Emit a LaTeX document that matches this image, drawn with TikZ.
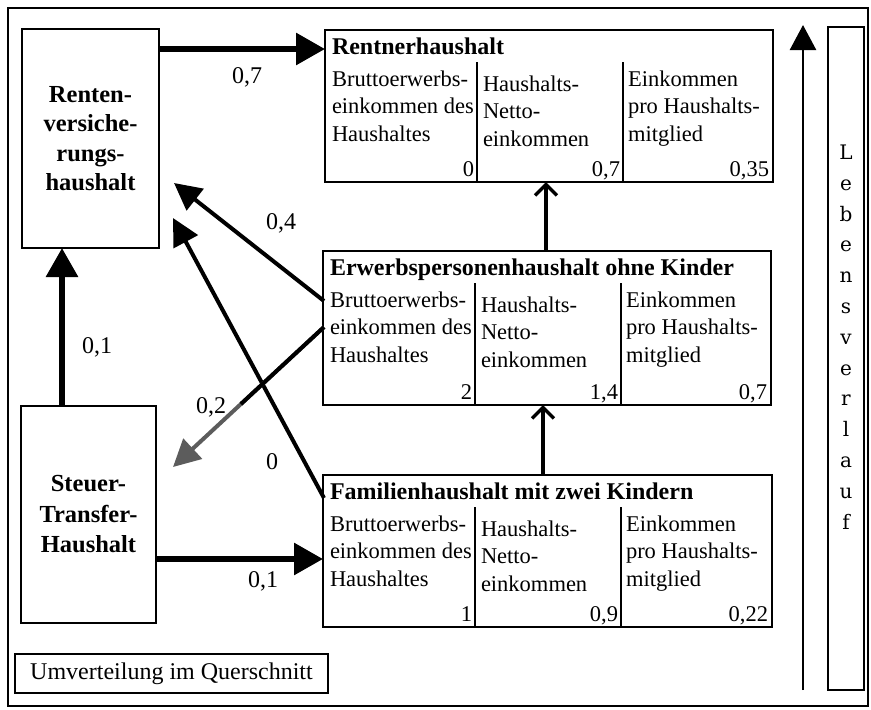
\documentclass[tikz,border=0pt]{standalone}
\usepackage{fontspec}
\setmainfont{Liberation Serif}
\newfontfamily\lebfont{DejaVu Serif}
\usetikzlibrary{arrows.meta,calc}
\definecolor{arrgray}{HTML}{5C5C5C}
\newcommand\bodyfont{\fontsize{22.5}{27.5}\selectfont}
\newcommand\titlefont{\fontsize{24}{28}\selectfont\bfseries}
\newcommand\sidefont{\fontsize{24.5}{29.5}\selectfont\bfseries}
\newcommand\steufont{\fontsize{24.5}{30.5}\selectfont\bfseries}
\newcommand\labfont{\fontsize{24}{28}\selectfont}
\newcommand\tl[1]{\begin{tabular}[t]{@{}l@{}}#1\end{tabular}}
\newcommand\hhcells[5]{%
  \node[txt, anchor=base west, font=\titlefont] (#1-title) at ($(#1.north west)+(7,24)$) {#2};
  \draw[divider] ($(#1.north west)+(152,32)$) -- ($(#1.south west)+(152,0)$);
  \draw[divider] ($(#1.north west)+(298,32)$) -- ($(#1.south west)+(298,0)$);
  \node[txt, anchor=base west, font=\bodyfont] (#1-c1) at ($(#1.north west)+(7,56)$) {\tl{Bruttoerwerbs-\\einkommen des\\Haushaltes}};
  \node[txt, anchor=base west, font=\bodyfont] (#1-c2) at ($(#1.north west)+(158,61)$) {\tl{Haushalts-\\Netto-\\einkommen}};
  \node[txt, anchor=base west, font=\bodyfont] (#1-c3) at ($(#1.north west)+(303,56)$) {\tl{Einkommen\\pro Haushalts-\\mitglied}};
  \node[txt, anchor=base east, font=\bodyfont] (#1-n1) at ($(#1.south west)+(149,-6)$) {#3};
  \node[txt, anchor=base east, font=\bodyfont] (#1-n2) at ($(#1.south west)+(295,-6)$) {#4};
  \node[txt, anchor=base east, font=\bodyfont] (#1-n3) at ($(#1.south east)+(-4,-6)$) {#5};
}
\begin{document}
\begin{tikzpicture}[x=1pt,y=-1pt,
  box/.style={draw, line width=1.7pt, inner sep=0pt, outer sep=0pt},
  txt/.style={inner sep=0pt, outer sep=0pt},
  divider/.style={line width=1.5pt},
  bigarrow/.style={line width=6pt, -{Triangle[length=29pt,width=31pt]}},
  diagarrow/.style={line width=4pt, -{Triangle[length=27pt,width=27pt]}},
  openarrow/.style={line width=3.5pt, -{Straight Barb[length=11pt,width=22pt,line width=3.5pt]}},
  lebarrow/.style={line width=2.5pt, -{Triangle[length=25pt,width=26pt]}},
  lab/.style={inner sep=0pt, font=\labfont}]
\useasboundingbox (0,0) rectangle (871,710);
\node[draw, line width=1.3pt, minimum width=860pt, minimum height=698pt, inner sep=0pt] (frame) at (438,357) {};

% side boxes
\node[box, minimum width=137pt, minimum height=219pt, align=center, font=\sidefont] (renten) at (90.5,138.5) {Renten-\\versiche-\\rungs-\\haushalt};
\node[box, minimum width=135pt, minimum height=217pt, align=center, font=\steufont] (steuer) at (88.5,514.5) {Steuer-\\Transfer-\\Haushalt};

% household boxes
\node[box, minimum width=448pt, minimum height=152pt] (rentner) at (549,106) {};
\node[box, minimum width=448pt, minimum height=154pt] (erwerbs) at (547,328) {};
\node[box, minimum width=449pt, minimum height=152pt] (familien) at (547.5,551) {};
\hhcells{rentner}{Rentnerhaushalt}{0}{0,7}{0,35}
\hhcells{erwerbs}{Erwerbspersonenhaushalt ohne Kinder}{2}{1,4}{0,7}
\hhcells{familien}{Familienhaushalt mit zwei Kindern}{1}{0,9}{0,22}

% Lebensverlauf
\node[box, minimum width=36pt, minimum height=663pt] (leb) at (846,358.5) {};
\node[txt, align=center, font=\lebfont\fontsize{20}{30.8}\selectfont] (lebtext) at (846,337) {L\\e\\b\\e\\n\\s\\v\\e\\r\\l\\a\\u\\f};
\coordinate (lb) at ($(leb.south west)+(-25,0)$);
\coordinate (lt) at ($(leb.north west)+(-25,-2)$);
\draw[lebarrow] (lb) -- (lt);

% Umverteilung
\node[box, line width=1.5pt, minimum width=313pt, minimum height=39pt, font=\labfont] (umv) at (171.5,673.5) {Umverteilung im Querschnitt};

% thick arrows
\coordinate (rtin) at ($(rentner.north west)+(0,19)$);
\draw[bigarrow] (rtin -| renten.east) -- (rtin);
\coordinate (stout) at ($(steuer.north west)+(41,0)$);
\draw[bigarrow] (stout) -- (stout |- renten.south);
\coordinate (fin) at ($(familien.north west)+(0,84)$);
\draw[bigarrow] (fin -| steuer.east) -- (fin);

% diagonal arrows
\coordinate (e1) at ($(erwerbs.north west)+(1,50)$);
\coordinate (r1) at ($(renten.north east)+(15,154)$);
\draw[diagarrow] (e1) -- (r1);
\coordinate (f1) at ($(familien.north west)+(1,23)$);
\coordinate (r2) at ($(renten.north east)+(14,189)$);
\draw[diagarrow] (f1) -- (r2);
\coordinate (e2) at ($(erwerbs.north west)+(1,76)$);
\coordinate (s1) at ($(steuer.north east)+(17,61)$);
\draw[diagarrow, draw=arrgray, fill=arrgray] (e2) -- (s1);
\draw[line width=4pt] (e2) -- ($(e2)!0.55!(s1)$);

% vertical open arrows
\coordinate (v1) at ($(erwerbs.north west)+(223,0)$);
\draw[openarrow] (v1) -- (v1 |- rentner.south);
\coordinate (v2) at ($(familien.north west)+(220,0)$);
\draw[openarrow] (v2) -- (v2 |- erwerbs.south);

% labels
\node[lab] (l07) at (247,77) {0,7};
\node[lab] (l01a) at (97,347) {0,1};
\node[lab] (l01b) at (263,581) {0,1};
\node[lab] (l04) at (281,223) {0,4};
\node[lab] (l02) at (211,407) {0,2};
\node[lab] (l0) at (272,462) {0};
\end{tikzpicture}
\end{document}
